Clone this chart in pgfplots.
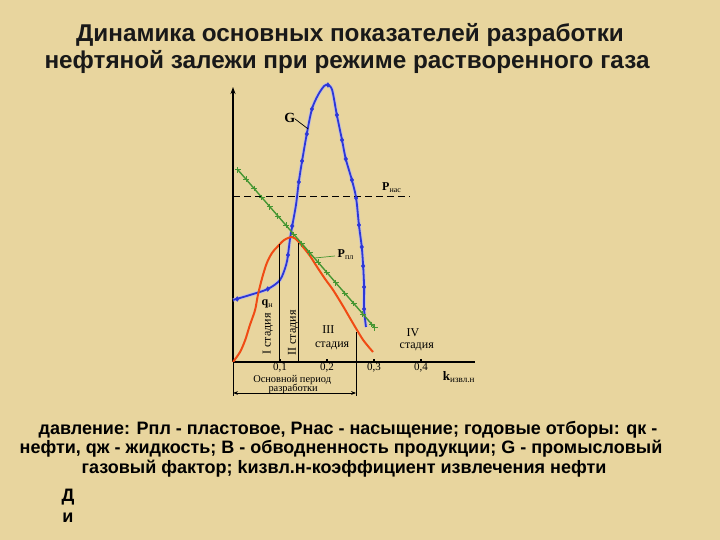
\documentclass[border=0pt]{standalone}
\usepackage{pgfplots}
\usepackage{pgfplotstable}
\pgfplotsset{compat=1.18}
\usepackage{fontspec}
\setmainfont{Liberation Serif}
\newfontfamily\arial{Liberation Sans}
\usetikzlibrary{arrows.meta}
\definecolor{bg}{RGB}{232,213,158}
\definecolor{gblue}{RGB}{45,55,215}
\definecolor{gred}{RGB}{240,75,20}
\definecolor{ggreen}{RGB}{70,150,50}

\pgfplotstableread{
k y
0 62
0.036 67
0.074 73
0.100 82
0.113 97
0.117 107
0.121 122
0.126 136
0.134 157
0.140 180
0.147 201
0.157 228
0.168 253
0.181 267
0.194 276
0.202 277
0.211 272
0.221 247
0.232 222
0.240 203
0.253 182
0.262 164
0.268 137
0.274 115
0.277 96
0.279 75
0.279 53
0.283 35
}\Gtab

\pgfplotstableread{
k y
0.009 63
0.074 73
0.117 107
0.126 136
0.140 180
0.147 201
0.157 228
0.168 253
0.202 277
0.221 247
0.232 222
0.240 203
0.253 182
0.262 164
0.268 137
0.274 115
0.277 96
0.279 75
0.279 53
}\Gmarks

\pgfplotstableread{
k y
0 0
0.015 10
0.026 22
0.036 37
0.047 52
0.053 67
0.062 84
0.072 99
0.083 109
0.094 115
0.109 122
0.126 125
0.138 121
0.149 115
0.164 106
0.179 95
0.196 83
0.213 72
0.234 56
0.255 39
0.277 22
0.298 10
}\Qtab

\pgfplotstableread{
k y
0.0106 192
0.0277 182.8
0.0447 173.6
0.0617 164.3
0.0787 155.1
0.0957 145.9
0.1128 136.7
0.1298 127.4
0.1468 118.2
0.1638 109.0
0.1809 99.8
0.2000 89.4
0.2191 79.0
0.2383 68.6
0.2574 58.3
0.2766 47.9
0.2957 37.5
0.3021 34
}\Ptab

\begin{document}
\begin{tikzpicture}[x=1pt,y=1pt]
\fill[bg] (0,0) rectangle (720,540);
\node[font=\arial\bfseries\fontsize{24.3}{28}\selectfont, text=black!90] at (350,505) {Динамика основных показателей разработки};
\node[font=\arial\bfseries\fontsize{24.3}{28}\selectfont, text=black!90] at (347,478) {нефтяной залежи при режиме растворенного газа};

\node[font=\arial\bfseries\fontsize{18}{21}\selectfont] at (348,110) {давление: Рпл - пластовое, Рнас - насыщение; годовые отборы: qк -};
\node[font=\arial\bfseries\fontsize{18}{21}\selectfont] at (341,91) {нефти, qж - жидкость; В - обводненность продукции; G - промысловый};
\node[font=\arial\bfseries\fontsize{18}{21}\selectfont] at (344,71) {газовый фактор; kизвл.н-коэффициент извлечения нефти};
\node[font=\arial\bfseries\fontsize{18}{21}\selectfont] at (68,43) {Д};
\node[font=\arial\bfseries\fontsize{18}{21}\selectfont] at (68,22) {и};

\begin{axis}[at={(233pt,178pt)}, anchor=south west, scale only axis,
  width=242pt, height=275pt, xmin=0, xmax=0.515, ymin=0, ymax=275,
  clip=false, axis x line*=bottom, axis y line*=left,
  axis line style={line width=1.6pt, black},
  y axis line style={-{Stealth[length=7pt,width=5pt]}},
  xtick={0.1,0.2,0.3,0.4}, xticklabels={{0,1},{0,2},{0,3},{0,4}},
  ytick=\empty, tick align=inside, major tick length=3pt,
  tick style={line width=1.2pt, black},
  xticklabel style={font=\fontsize{11}{13}\selectfont, yshift=2pt},
  ]
\addplot[gblue!35, line width=3.6pt, smooth, tension=0.5, opacity=0.7] table {\Gtab};
\addplot[gblue, line width=1.8pt, smooth, tension=0.5] table {\Gtab};
\addplot[gblue, only marks, mark=diamond*, mark size=2.4pt] table {\Gmarks};
\addplot[gred, line width=2pt, smooth, tension=0.5] table {\Qtab};
\addplot[ggreen, line width=1.4pt, mark=+, mark size=2.8pt, mark options={line width=1pt}] table {\Ptab};
\addplot[black, line width=1pt, dashed, dash pattern=on 7pt off 4pt] coordinates {(0,165) (0.377,165)};
% stage lines
\addplot[black, line width=1pt] coordinates {(0.098,0) (0.098,118)};
\addplot[black, line width=1.4pt] coordinates {(0.140,0) (0.140,119)};
\addplot[black, line width=1pt] coordinates {(0.262,-34) (0.262,30)};
\addplot[black, line width=1pt] coordinates {(0,0) (0,-34)};
\addplot[black, line width=0.8pt, {Stealth[length=5pt]}-{Stealth[length=5pt]}] coordinates {(0,-31) (0.262,-31)};
% labels
\node[font=\fontsize{14}{16}\selectfont\bfseries] at (axis cs:0.121,244) {G};
\draw[black, line width=0.7pt] (axis cs:0.132,243) -- (axis cs:0.160,233);
\node[font=\fontsize{12}{14}\selectfont] at (axis cs:0.338,174) {\textbf{P}\textsubscript{нас}};
\node[font=\fontsize{12}{14}\selectfont] at (axis cs:0.240,107) {\textbf{P}\textsubscript{пл}};
\draw[ggreen, line width=0.7pt] (axis cs:0.174,104) -- (axis cs:0.217,106);
\node[font=\fontsize{12}{14}\selectfont] at (axis cs:0.073,58) {\textbf{q}\textsubscript{н}};
\node[font=\fontsize{12}{14}\selectfont, rotate=90] at (axis cs:0.074,28) {I стадия};
\node[font=\fontsize{12}{14}\selectfont, rotate=90] at (axis cs:0.128,29) {II стадия};
\node[font=\fontsize{12}{14}\selectfont] at (axis cs:0.203,32) {III};
\node[font=\fontsize{12}{14}\selectfont] at (axis cs:0.211,16) {стадия};
\node[font=\fontsize{12}{14}\selectfont] at (axis cs:0.383,29) {IV};
\node[font=\fontsize{12}{14}\selectfont] at (axis cs:0.391,15) {стадия};
\node[font=\fontsize{10.4}{12}\selectfont] at (axis cs:0.126,-18) {Основной период};
\node[font=\fontsize{10.4}{12}\selectfont] at (axis cs:0.128,-27) {разработки};
\node[font=\fontsize{13}{15}\selectfont] at (axis cs:0.481,-15) {\textbf{k}\textsubscript{извл.н}};
\end{axis}
\end{tikzpicture}
\end{document}
